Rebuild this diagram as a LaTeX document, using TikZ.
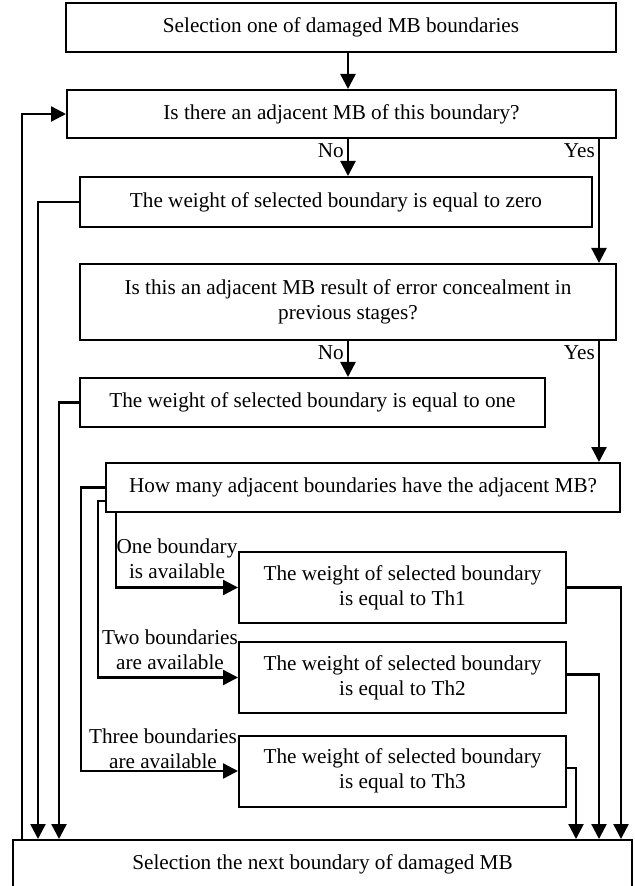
\documentclass[tikz,border=0pt]{standalone}
\usepackage{fontspec}
\setmainfont{Liberation Serif}
\usetikzlibrary{arrows.meta,calc}

\begin{document}
\begin{tikzpicture}[x=0.5pt,y=-0.5pt,
    font=\fontsize{10.6}{12.5}\selectfont,
    box/.style={draw,line width=1pt,align=center,inner sep=0pt},
    thbox/.style={box,minimum width=163.5pt,minimum height=35.5pt},
    arr/.style={line width=1.2pt,-{Triangle[length=7.5pt,width=7.5pt]}},
    lbl/.style={align=center,inner sep=1.5pt}]
  \useasboundingbox (0,0) rectangle (635,886);
  % x positions of the vertical lines
  \coordinate (mid) at (348,0);
  \coordinate (yes) at (599,0);
  \coordinate (back) at (22,0);
  \coordinate (outZ) at (38,0);
  \coordinate (outO) at (59,0);
  \coordinate (inC) at (81,0);
  \coordinate (inB) at (98,0);
  \coordinate (inA) at (116,0);
  \coordinate (outA) at (621,0);
  \coordinate (outB) at (599,0);
  \coordinate (outC) at (576,0);
  % boxes
  \node[box,minimum width=275pt,minimum height=24.5pt] (sel) at (341,27.5) {Selection one of damaged MB boundaries};
  \node[box,minimum width=274.5pt,minimum height=24pt] (adj) at (341.5,114) {Is there an adjacent MB of this boundary?};
  \node[box,minimum width=256pt,minimum height=25pt] (zero) at (336,202) {The weight of selected boundary is equal to zero};
  \node[box,minimum width=268pt,minimum height=38pt] (conc) at (348,302) {Is this an adjacent MB result of error concealment in\\previous stages?};
  \node[box,minimum width=232.5pt,minimum height=24.5pt] (one) at (312.5,402.5) {The weight of selected boundary is equal to one};
  \node[box,minimum width=257pt,minimum height=24.5pt] (many) at (363,487.5) {How many adjacent boundaries have the adjacent MB?};
  \foreach \n/\y/\t in {A/587.5/1,B/677.5/2,C/771/3}
    \node[thbox] (th\n) at (402.5,\y) {The weight of selected boundary\\is equal to Th\t};
  \node[box,minimum width=309.5pt,minimum height=24pt] (next) at (322.5,864) {Selection the next boundary of damaged MB};
  % labels of the three cases
  \node[lbl] (lblA) at (177,559) {One boundary\\is available};
  \node[lbl] (lblB) at (170,650) {Two boundaries\\are available};
  \node[lbl] (lblC) at (163,749) {Three boundaries\\are available};
  % main flow
  \draw[arr] (mid |- sel.south) -- (mid |- adj.north);
  \draw[arr] (mid |- adj.south) -- node[lbl,anchor=north east,pos=0] (no1) {No} (mid |- zero.north);
  \draw[arr] (yes |- adj.south) -- node[lbl,anchor=north east,pos=0] (yes1) {Yes} (yes |- conc.north);
  \draw[arr] (mid |- conc.south) -- node[lbl,anchor=north east,pos=0] (no2) {No} (mid |- one.north);
  \draw[arr] (yes |- conc.south) -- node[lbl,anchor=north east,pos=0] (yes2) {Yes} (yes |- many.north);
  % cases
  \draw[arr] (inA |- many.south) |- (thA.west);
  \draw[arr] ($(many.west)+(0,13.5)$) -| (inB |- thB.west) -- (thB.west);
  \draw[arr] (many.west) -| (inC |- thC.west) -- (thC.west);
  % to the next boundary
  \draw[arr] (zero.west) -| (outZ |- next.north);
  \draw[arr] (one.west) -| (outO |- next.north);
  \draw[arr] (thA.east) -| (outA |- next.north);
  \draw[arr] ($(thB.east)+(0,-3)$) -| (outB |- next.north);
  \draw[arr] ($(thC.east)+(0,-3)$) -| (outC |- next.north);
  % back to the start
  \draw[arr] (back |- next.north) |- (adj.west);
\end{tikzpicture}
\end{document}
